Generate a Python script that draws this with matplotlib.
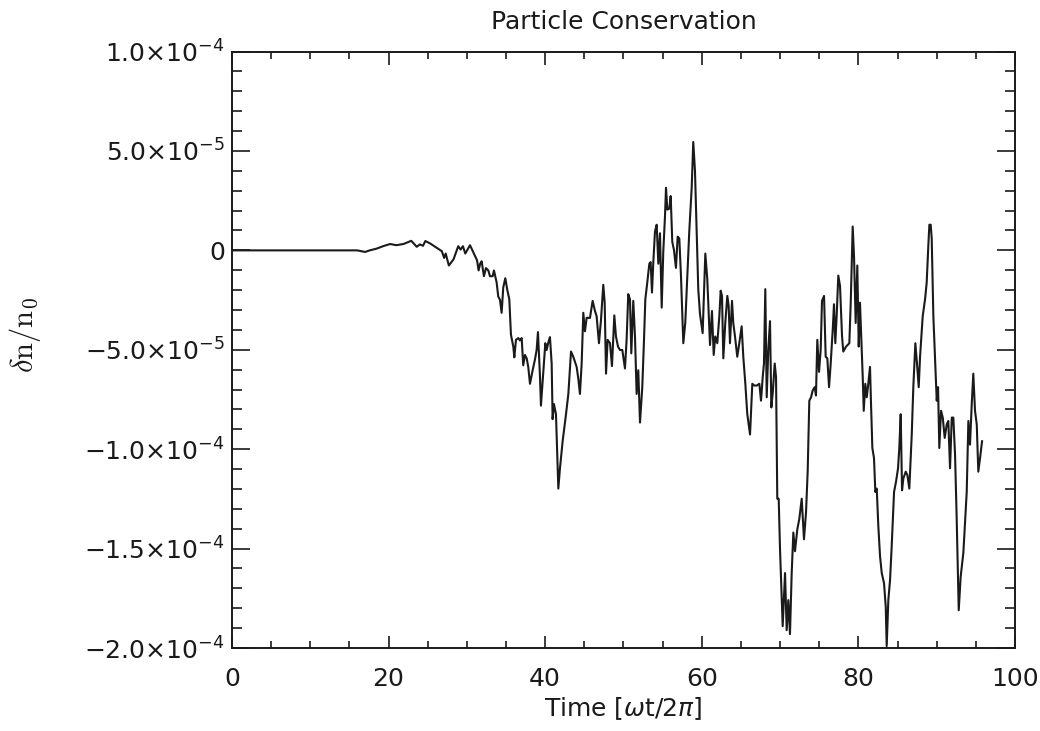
import numpy as np
import matplotlib
matplotlib.use("Agg")
import matplotlib.pyplot as plt
from matplotlib.ticker import MultipleLocator, FuncFormatter

# time in units of wt/2pi, density error in units of 1e-5
time = [0, 2, 4, 6, 8, 10, 12, 14, 16, 16.6, 17.0,
        17.6, 18.5, 19.3, 20.2, 21.0, 21.9, 22.9, 23.6, 24.0, 24.4, 24.7, 25.3, 26.1, 26.8, 27.1,
        27.3, 27.7, 28.3, 28.9, 29.2, 29.5, 29.8, 30.4, 30.8, 31.3, 31.5,
        31.7, 31.89, 32.18, 32.44, 32.74, 32.95, 33.29, 33.46, 33.80, 34.01, 34.23, 34.44, 34.65,
        34.91, 35.16, 35.42, 35.63, 35.93, 36.06, 36.27, 36.57, 36.78, 37.00, 37.20, 37.42, 37.64,
        37.84, 38.06, 38.40, 38.70, 38.91, 39.08, 39.34, 39.46, 39.76, 40.02, 40.19, 40.40, 40.61,
        40.83, 40.95, 41.12, 41.38, 41.55, 41.68, 41.89, 42.23, 42.66, 42.96, 43.30, 43.59, 44.02,
        44.23, 44.44, 44.66, 44.87, 45.08, 45.30, 45.72,
        46.06, 46.36, 46.57, 46.87, 47.13, 47.42, 47.60, 47.77, 47.98, 48.28, 48.53, 48.83, 49.04,
        49.30, 49.55, 49.85, 50.19, 50.40, 50.61, 50.83, 51.00, 51.25, 51.47, 51.68, 51.89, 52.11,
        52.40, 52.62, 52.79, 53.04, 53.30, 53.47, 53.64, 53.81, 54.02, 54.24, 54.45, 54.66, 54.88,
        55.08, 55.30, 55.43, 55.60, 55.85, 56.03, 56.23, 56.45, 56.70, 56.92, 57.13, 57.34, 57.64,
        57.89, 58.15, 58.40, 58.71, 58.91, 59.13, 59.35, 59.55, 59.77,
        60.11, 60.45, 60.70, 61.05, 61.30, 61.52, 61.72, 61.98, 62.24, 62.41, 62.58, 62.75, 63.00,
        63.26, 63.43, 63.60, 63.86, 64.02, 64.24, 64.53, 64.79, 65.09, 65.30, 65.56, 65.81, 66.16,
        66.45, 66.71, 67.01, 67.35, 67.56, 67.78, 67.94, 68.11, 68.29, 68.49, 68.71, 68.88, 69.05,
        69.31, 69.48, 69.64, 69.82, 69.99, 70.33, 70.63, 70.84, 71.05, 71.26, 71.48, 71.69, 71.90,
        72.20, 72.45, 72.76, 73.05, 73.31, 73.52, 73.73,
        73.95, 74.16, 74.42, 74.58, 74.75, 74.97, 75.18, 75.35, 75.61, 75.82, 76.03, 76.25, 76.46,
        76.72, 76.88, 77.05, 77.23, 77.43, 77.65, 77.91, 78.07, 78.42, 78.84, 79.02, 79.27, 79.44,
        79.65, 79.86, 80.04, 80.20, 80.33, 80.55, 80.68, 80.88, 81.06, 81.26, 81.48, 81.61, 81.78,
        81.99, 82.16, 82.34, 82.54, 82.76, 82.98, 83.27, 83.49, 83.61, 83.82, 84.04, 84.25, 84.55,
        84.80, 85.06, 85.22, 85.40, 85.57, 85.74, 86.04, 86.25, 86.50, 86.81, 87.01, 87.27, 87.48,
        87.70, 87.87,
        88.21, 88.51, 88.72, 88.93, 89.06, 89.23, 89.36, 89.57, 89.78, 90.00, 90.17, 90.33, 90.55,
        90.77, 91.02, 91.28, 91.48, 91.70, 91.92, 92.12, 92.34, 92.55, 92.81, 93.06, 93.40, 93.66,
        93.83, 94.04, 94.25, 94.47, 94.67, 94.89, 95.11, 95.31, 95.53, 95.79]

dn = [0, 0, 0, 0, 0, 0, 0, 0, 0, -0.05, -0.08,
      0.0, 0.09, 0.21, 0.32, 0.26, 0.32, 0.48, 0.18, 0.30, 0.23, 0.47, 0.35, 0.14, -0.04, -0.38,
      -0.16, -0.76, -0.45, 0.21, 0.04, 0.21, -0.16, 0.26, -0.08, -0.50, -1.01,
      -0.67, -0.55, -1.30, -0.89, -1.01, -1.30, -1.30, -1.01, -1.61, -2.32, -2.49, -3.14, -1.86,
      -1.40, -1.98, -2.46, -4.24, -4.84, -5.38, -4.50, -4.41, -4.53, -4.41, -5.78, -5.26, -5.43,
      -5.86, -6.71, -6.03, -5.48, -5.01, -4.11, -6.37, -7.81, -6.11, -4.67, -5.01, -4.63, -4.36,
      -5.69, -8.49, -7.73, -8.24, -10.28, -11.98, -10.96, -9.60, -8.24, -7.22, -5.09, -5.35, -5.86,
      -6.45, -7.22, -5.69, -3.14, -4.07, -3.39, -3.40,
      -2.54, -3.05, -3.31, -4.67, -3.48, -1.73, -2.63, -6.20, -4.50, -4.67, -5.82, -3.27, -4.33,
      -4.84, -5.01, -5.01, -5.94, -4.50, -2.20, -2.46, -5.18, -2.54, -4.33, -7.22, -6.03, -8.66,
      -6.88, -4.50, -2.46, -1.61, -0.67, -0.59, -2.12, -0.59, 0.94, 1.29, -0.67, 0.86, -2.88,
      -0.08, 1.71, 3.15, 2.05, 2.10, 2.73, 0.43, 0.01, -0.88, 0.69, 0.60, -1.27, -4.67,
      -3.65, -1.27, 0.94, 3.15, 5.45, 4.00, 0.94, -1.95, -3.20,
      -4.16, -0.16, -1.44, -4.76, -3.05, -5.26, -4.33, -4.67, -3.31, -2.03, -2.29, -5.43, -3.65,
      -2.29, -2.80, -4.67, -2.54, -3.65, -4.33, -5.35, -4.67, -3.82, -5.35, -6.71, -8.24, -9.26,
      -6.71, -6.80, -6.80, -6.71, -7.56, -6.37, -5.69, -1.95, -7.39, -5.01, -3.56, -7.90, -7.22,
      -5.69, -6.37, -12.49, -12.49, -15.04, -18.90, -16.23, -19.10, -17.59, -19.30, -16.23, -14.19, -15.13,
      -14.02, -13.51, -12.49, -14.53, -13.17, -11.13, -7.56,
      -7.39, -7.05, -6.88, -7.30, -4.50, -6.11, -5.01, -2.54, -2.29, -5.35, -5.43, -6.88, -5.69,
      -3.99, -2.71, -4.67, -3.22, -1.27, -1.78, -4.33, -5.09, -4.84, -4.67, -2.63, 1.20, -0.33,
      -3.65, -0.76, -4.84, -2.63, -3.99, -6.37, -8.07, -6.71, -7.39, -6.71, -5.86, -7.73, -9.94,
      -10.45, -12.15, -11.98, -13.85, -15.38, -16.23, -16.74, -17.93, -19.90, -17.59, -16.57, -14.87, -12.15,
      -11.64, -10.96, -9.94, -8.24, -12.07, -11.47, -11.13, -11.30, -11.98, -9.26, -6.88, -4.67, -5.69,
      -6.88, -5.35,
      -3.31, -2.46, -1.61, 0.27, 1.29, 1.29, 0.60, -3.31, -5.35, -7.56, -6.88, -9.94, -8.07,
      -8.41, -9.43, -8.75, -8.58, -10.96, -8.41, -8.41, -10.28, -13.51, -18.10, -16.40, -15.21, -13.34,
      -12.15, -8.58, -9.77, -7.73, -6.20, -8.07, -8.75, -11.13, -10.45, -9.60]

scale = 1e-5
x_label = r'Time $[\omega \mathrm{t}/2\pi]$'
y_label = r'$\delta\mathrm{n}/\mathrm{n}_0$'
title = 'Particle Conservation'
ink = '#1a1a1a'

plt.rcParams['mathtext.fontset'] = 'dejavusans'

fig = plt.figure(figsize=(10.4, 7.31), dpi=100)
ax = fig.add_axes([0.223, 0.1135, 0.753, 0.816])

ax.plot(time, np.array(dn) * scale, color=ink, lw=1.5)

ax.set_xlim(0, 100)
ax.set_ylim(-2e-4, 1e-4)


def yfmt(v, pos):
    if abs(v) < 1e-12:
        return '0'
    e = int(np.floor(np.log10(abs(v)) + 1e-9))
    m = v / 10 ** e
    return r'$%.1f{\times}10^{%d}$' % (m, e)


ax.xaxis.set_major_locator(MultipleLocator(20))
ax.xaxis.set_minor_locator(MultipleLocator(5))
ax.yaxis.set_major_locator(MultipleLocator(5e-5))
ax.yaxis.set_minor_locator(MultipleLocator(1e-5))
ax.yaxis.set_major_formatter(FuncFormatter(yfmt))

ax.tick_params(axis='both', which='both', direction='in', top=True, right=True,
               width=1.2, colors=ink, labelsize=18)
ax.tick_params(axis='y', which='major', length=13, pad=5)
ax.tick_params(axis='y', which='minor', length=7)
ax.tick_params(axis='x', which='major', length=9, pad=14)
ax.tick_params(axis='x', which='minor', length=5)
for s in ax.spines.values():
    s.set_linewidth(1.4)
    s.set_color(ink)

ax.set_title(title, fontsize=18, pad=16, color=ink)
ax.set_xlabel(x_label, fontsize=18, labelpad=3, color=ink)
plt.rcParams['mathtext.fontset'] = 'cm'
fig.text(25 / 1040, 1 - 335 / 731, y_label, rotation=90, fontsize=22,
         ha='center', va='center', color=ink)

fig.savefig('out.png', dpi=100)
